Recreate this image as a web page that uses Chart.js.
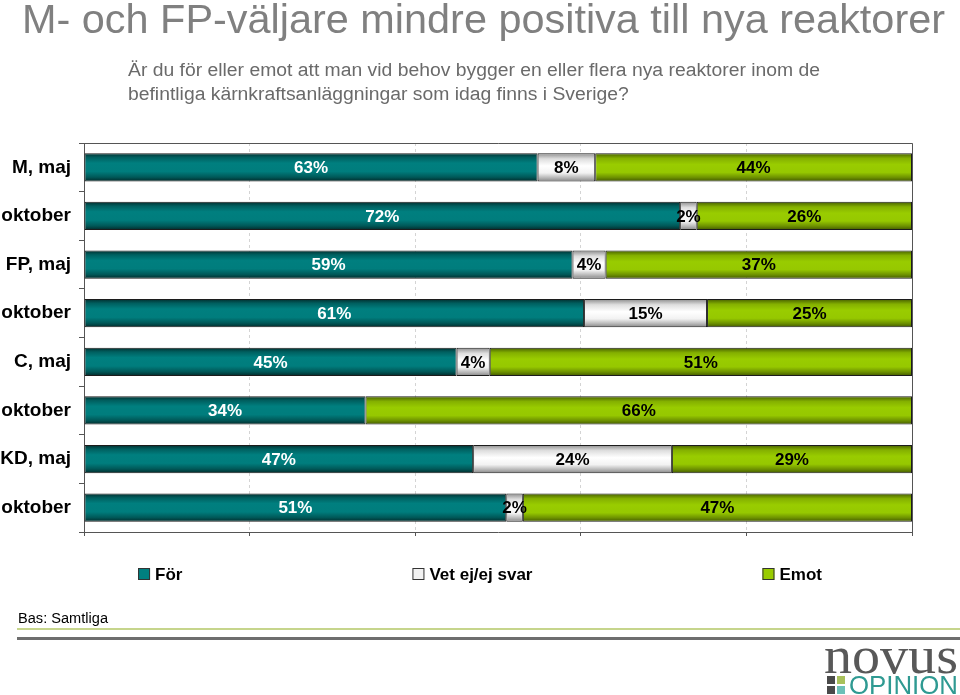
<!DOCTYPE html>
<html><head><meta charset="utf-8">
<script src="https://cdn.jsdelivr.net/npm/chart.js@4/dist/chart.umd.min.js"></script>
<style>
html,body{margin:0;padding:0;background:#fff;}
#wrap{position:relative;width:960px;height:695px;overflow:hidden;font-family:"Liberation Sans",Arial,sans-serif;}
#c{position:absolute;left:0;top:0;}
.t{position:absolute;white-space:nowrap;transform-origin:0 0;line-height:1;z-index:2;}
#title{left:22px;top:-1px;font-size:40px;color:#808080;}
.sub{left:128px;font-size:18px;color:#6a6a6a;}
#sub1{top:61px;}
#sub2{top:85px;}
#bas{left:18px;top:611px;font-size:14px;color:#000;}
.ln{position:absolute;left:17px;width:943px;z-index:2;}
#ln1{top:628px;height:2px;background:#c6d58c;}
#ln2{top:637px;height:3px;background:#6e6e6e;}
#novus{left:824px;top:630px;font-family:"Liberation Serif","DejaVu Serif",serif;font-size:52px;color:#585858;}
#opinion{left:849px;top:672px;font-size:26px;color:#2f9a92;}
.sq{position:absolute;width:8px;height:8px;z-index:2;}
</style></head>
<body><div id="wrap">
<canvas id="c" width="960" height="695"></canvas>
<div class="t" id="title">M- och FP-väljare mindre positiva till nya reaktorer</div>
<div class="t sub" id="sub1">Är du för eller emot att man vid behov bygger en eller flera nya reaktorer inom de</div>
<div class="t sub" id="sub2">befintliga kärnkraftsanläggningar som idag finns i Sverige?</div>
<div class="t" id="bas">Bas: Samtliga</div>
<div class="ln" id="ln1"></div>
<div class="ln" id="ln2"></div>
<div class="t" id="novus">novus</div>
<div class="sq" style="left:827px;top:676px;background:#4a4a4a"></div>
<div class="sq" style="left:837px;top:676px;background:#a9c15c"></div>
<div class="sq" style="left:827px;top:686px;background:#4a4a4a"></div>
<div class="sq" style="left:837px;top:686px;background:#6cc0b8"></div>
<div class="t" id="opinion">OPINION</div>
</div>
<script>
// ---- data ----
const categories = ['M, maj','oktober','FP, maj','oktober','C, maj','oktober','KD, maj','oktober'];
const forValues   = [63, 72, 59, 61, 45, 34, 47, 51];
const vetEjValues = [ 8,  2,  4, 15,  4,  0, 24,  2];
const emotValues  = [44, 26, 37, 25, 51, 66, 29, 47];
const seriesNames = ['För', 'Vet ej/ej svar', 'Emot'];
const xTicks = [0, 20, 40, 60, 80, 100];

// ---- text fitting ----
function fit(id, target){
  const el = document.getElementById(id);
  const w = el.getBoundingClientRect().width;
  const s = target / w;
  el.style.transform = 'scaleX(' + s + ')';
  return s;
}
fit('title', 923);
const s1 = fit('sub1', 692);
document.getElementById('sub2').style.transform = 'scaleX(' + s1 + ')';
fit('bas', 90);
fit('novus', 134);
fit('opinion', 109);

// ---- chart ----
const FONT = "'Liberation Sans', Arial, sans-serif";
const BAR_PCT = 0.58;
const rawSeries = [forValues, vetEjValues, emotValues];
const totals = categories.map((_, i) => forValues[i] + vetEjValues[i] + emotValues[i]);
const share = arr => arr.map((v, i) => v / totals[i] * 100);

function grad(stops, solid){
  return function(ctx){
    const chart = ctx.chart;
    const ys = chart.scales && chart.scales.y;
    if (!chart.chartArea || !ys || ctx.type !== 'data') return solid;
    const c = ys.getPixelForValue(ctx.dataIndex);
    const h = (ys.bottom - ys.top) / categories.length * BAR_PCT;
    const g = chart.ctx.createLinearGradient(0, c - h/2, 0, c + h/2);
    stops.forEach(s => g.addColorStop(s[0], s[1]));
    return g;
  };
}
const solids = ['#007f7f', '#f2f2f2', '#99cc00'];
const fills = [
  grad([[0,'#022e2e'],[0.15,'#005f5f'],[0.35,'#007f7f'],[0.65,'#007d7d'],[0.85,'#005858'],[1,'#022a2a']], solids[0]),
  grad([[0,'#8c8c8c'],[0.2,'#dedede'],[0.45,'#ffffff'],[0.7,'#f2f2f2'],[0.88,'#b4b4b4'],[1,'#858585']], solids[1]),
  grad([[0,'#465e00'],[0.18,'#84b000'],[0.4,'#99cc00'],[0.68,'#96c800'],[0.86,'#6d9100'],[1,'#425800']], solids[2])
];

const framePlugin = {
  id: 'frame',
  beforeDatasetsDraw(chart){
    const {ctx, chartArea: a} = chart;
    ctx.save();
    ctx.strokeStyle = '#555';
    ctx.lineWidth = 1;
    ctx.beginPath();
    ctx.moveTo(a.left, Math.round(a.top) + 0.5);
    ctx.lineTo(Math.round(a.right) + 0.5, Math.round(a.top) + 0.5);
    ctx.lineTo(Math.round(a.right) + 0.5, a.bottom);
    ctx.stroke();
    ctx.restore();
  }
};

const labelPlugin = {
  id: 'barLabels',
  afterDatasetsDraw(chart){
    const ctx = chart.ctx;
    ctx.save();
    ctx.font = 'bold 17px ' + FONT;
    ctx.textAlign = 'center';
    ctx.textBaseline = 'middle';
    chart.data.datasets.forEach((ds, d) => {
      const meta = chart.getDatasetMeta(d);
      meta.data.forEach((bar, i) => {
        const v = rawSeries[d][i];
        if (!v) return;
        const p = bar.getCenterPoint();
        ctx.fillStyle = d === 0 ? '#ffffff' : '#000000';
        ctx.fillText(v + '%', p.x, p.y + 1);
      });
    });
    ctx.restore();
  }
};

const legendPlugin = {
  id: 'wideLegend',
  afterDraw(chart){
    const ctx = chart.ctx;
    const box = 12, gapText = 5, gap = 230, yc = 574;
    ctx.save();
    ctx.font = 'bold 17px ' + FONT;
    ctx.textBaseline = 'middle';
    const items = chart.data.datasets.map((ds, d) => ({text: ds.label, color: solids[d], w: box + gapText + ctx.measureText(ds.label).width}));
    const total = items.reduce((s, it) => s + it.w, 0) + gap * (items.length - 1);
    let x = chart.width / 2 - total / 2;
    items.forEach(it => {
      ctx.fillStyle = it.color;
      ctx.fillRect(x, yc - box/2, box, box);
      ctx.strokeStyle = '#333';
      ctx.lineWidth = 1;
      ctx.strokeRect(x + 0.5, yc - box/2 + 0.5, box - 1, box - 1);
      ctx.fillStyle = '#000';
      ctx.fillText(it.text, x + box + gapText, yc + 1);
      x += it.w + gap;
    });
    ctx.restore();
  }
};

new Chart(document.getElementById('c'), {
  type: 'bar',
  data: {
    labels: categories,
    datasets: rawSeries.map((arr, d) => ({
      label: seriesNames[d],
      data: share(arr),
      backgroundColor: fills[d],
      borderColor: '#1c1c1c',
      borderWidth: 1,
      borderSkipped: false,
      barPercentage: BAR_PCT,
      categoryPercentage: 1
    }))
  },
  options: {
    indexAxis: 'y',
    responsive: false,
    animation: false,
    events: [],
    layout: {padding: {left: 0, right: 48, top: 143, bottom: 157}},
    plugins: {legend: {display: false}, tooltip: {enabled: false}, title: {display: false}},
    scales: {
      x: {
        stacked: true, min: 0, max: 100,
        afterBuildTicks(s){ s.ticks = xTicks.map(v => ({value: v})); },
        ticks: {display: false},
        grid: {color: '#d4d4d4', lineWidth: 1, tickColor: '#555', tickLength: 4},
        border: {color: '#555', width: 1, dash: [3, 3]},
        afterFit(s){ s.height = 6; }
      },
      y: {
        stacked: true,
        ticks: {autoSkip: false, color: '#000', padding: 8, font: {family: FONT, size: 19, weight: 'bold'}},
        grid: {drawOnChartArea: false, offset: true, tickLength: 5, color: '#555'},
        border: {color: '#555', width: 1},
        afterFit(s){ s.width = 84; }
      }
    }
  },
  plugins: [framePlugin, labelPlugin, legendPlugin]
});
</script>
</body></html>
